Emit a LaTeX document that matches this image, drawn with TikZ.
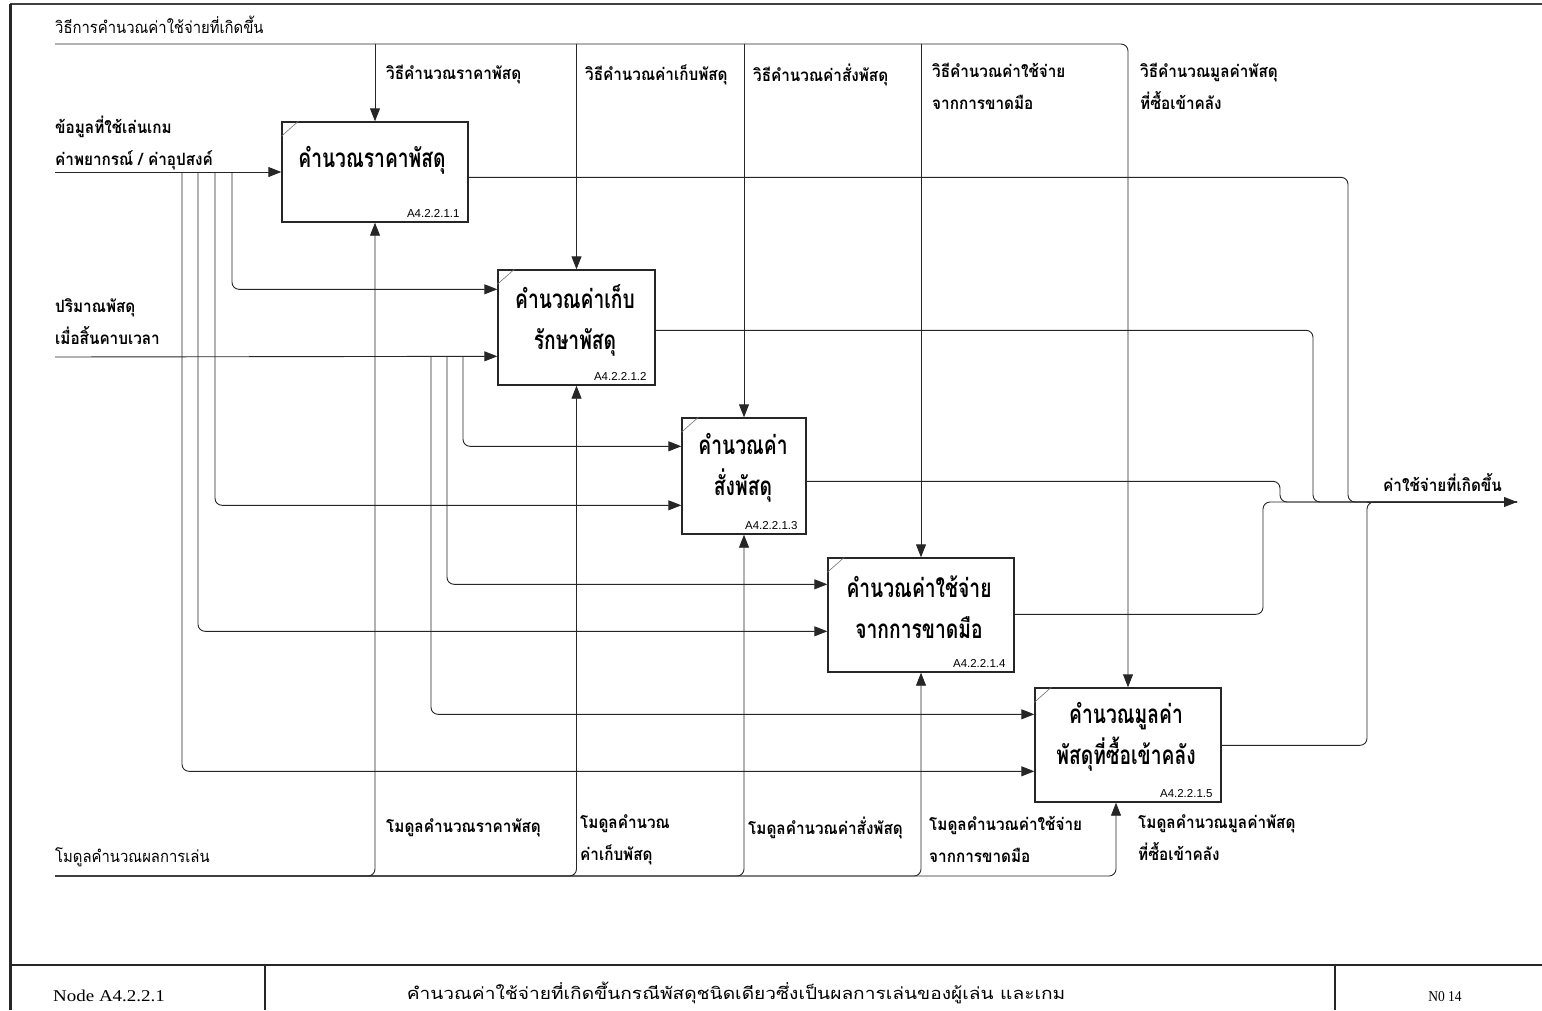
\documentclass[tikz,border=0pt]{standalone}
\usepackage{fontspec}
\setmainfont{Liberation Serif}
\newfontfamily\thai[Script=Thai, FakeStretch=0.9]{Loma}
\newfontfamily\thaititle[Script=Thai, FakeStretch=0.74]{Loma}
\newfontfamily\thaiwide[Script=Thai, FakeStretch=1.16]{Loma}
\newfontfamily\idfont{Liberation Sans}
\newfontfamily\sheetfont[FakeStretch=1.15]{Liberation Serif}
\newfontfamily\pagefont[FakeStretch=0.9]{Liberation Serif}
\usetikzlibrary{arrows.meta,calc}

\begin{document}
\begin{tikzpicture}[x=1pt,y=-1pt,
  ln/.style={line width=0.9pt, draw=black!85, rounded corners=7pt},
  arr/.style={ln, -{Triangle[length=13pt,width=10pt]}},
  actbox/.style={draw=black!85, line width=1.4pt, fill=white, inner sep=0pt},
  boxtitle/.style={font=\thaititle\bfseries\fontsize{26}{41}\selectfont, align=center, inner sep=0pt},
  lbl/.style={font=\thai\bfseries\fontsize{17}{32}\selectfont, align=left, inner sep=0pt, anchor=west},
  plainlbl/.style={lbl, font=\thai\fontsize{16.5}{32}\selectfont},
  boxid/.style={font=\idfont\fontsize{11.5}{12}\selectfont, inner sep=0pt, anchor=south east},
  cornermark/.style={line width=0.6pt, draw=black!55},
  frame/.style={line width=2pt, draw=black!85}
]
\useasboundingbox (0,0) rectangle (1542,1010);

% ---- sheet frame and title block ----
\draw[line width=1.5pt, draw=black!75] (10,4) -- (1542,4);
\draw[line width=3pt, draw=black!85] (10,4) -- (10,1010);
\draw[frame] (10,965) -- (1542,965);
\draw[frame] (265,965) -- (265,1010);
\draw[frame] (1335,965) -- (1335,1010);
\node[font=\sheetfont\fontsize{16.5}{19}\selectfont, anchor=west, inner sep=0pt] (nodeid) at (53,996) {Node A4.2.2.1};
\node[font=\thaiwide\fontsize{16.5}{19}\selectfont] (sheettitle) at (736,993) {คำนวณค่าใช้จ่ายที่เกิดขึ้นกรณีพัสดุชนิดเดียวซึ่งเป็นผลการเล่นของผู้เล่น และเกม};
\node[font=\pagefont\fontsize{15}{17}\selectfont] (pageno) at (1445,997) {N0 14};

% ---- activity boxes ----
\node[actbox, minimum width=186pt, minimum height=100pt] (b1) at (375,172) {};
\node[actbox, minimum width=157pt, minimum height=115pt] (b2) at (576.5,327.5) {};
\node[actbox, minimum width=124pt, minimum height=116pt] (b3) at (744,476) {};
\node[actbox, minimum width=186pt, minimum height=114pt] (b4) at (921,615) {};
\node[actbox, minimum width=186pt, minimum height=114pt] (b5) at (1128,745) {};

\foreach \b in {b1,b2,b3,b4,b5}
  \draw[cornermark] ($(\b.north west)+(0,15)$) -- ($(\b.north west)+(17,0)$);

\node[boxtitle] (t1) at (372,160) {คำนวณราคาพัสดุ};
\node[boxtitle] (t2) at (575,320) {คำนวณค่าเก็บ\\รักษาพัสดุ};
\node[boxtitle] (t3) at (743,468) {คำนวณค่า\\สั่งพัสดุ};
\node[boxtitle] (t4) at (919,607) {คำนวณค่าใช้จ่าย\\จากการขาดมือ};
\node[boxtitle] (t5) at (1126,737) {คำนวณมูลค่า\\พัสดุที่ซื้อเข้าคลัง};

\node[boxid] (id1) at ($(b1.south east)+(-9,-5)$) {A4.2.2.1.1};
\node[boxid] (id2) at ($(b2.south east)+(-9,-5)$) {A4.2.2.1.2};
\node[boxid] (id3) at ($(b3.south east)+(-9,-5)$) {A4.2.2.1.3};
\node[boxid] (id4) at ($(b4.south east)+(-9,-5)$) {A4.2.2.1.4};
\node[boxid] (id5) at ($(b5.south east)+(-9,-5)$) {A4.2.2.1.5};

% ---- controls ----
\coordinate (ctl) at (55,44);
\node[plainlbl] (ctllbl) at (55,25) {วิธีการคำนวณค่าใช้จ่ายที่เกิดขึ้น};
\draw[arr] (ctl) -| (b5.north);
\foreach \b in {b1,b2,b3,b4}
  \draw[arr] (\b.north |- ctl) -- (\b.north);
\node[lbl] (c1) at (386,75) {วิธีคำนวณราคาพัสดุ};
\node[lbl] (c2) at (585,75) {วิธีคำนวณค่าเก็บพัสดุ};
\node[lbl] (c3) at (753,75) {วิธีคำนวณค่าสั่งพัสดุ};
\node[lbl, anchor=north west] (c4) at (932,63) {วิธีคำนวณค่าใช้จ่าย\\จากการขาดมือ};
\node[lbl, anchor=north west] (c5) at (1140,63) {วิธีคำนวณมูลค่าพัสดุ\\ที่ซื้อเข้าคลัง};

% ---- inputs ----
\coordinate (in1) at (55,172);
\node[lbl, anchor=north west] (i1) at (55,116) {ข้อมูลที่ใช้เล่นเกม\\ค่าพยากรณ์ / ค่าอุปสงค์};
\draw[arr] (in1) -- (b1.west);
\coordinate (s1a) at (232,172);
\coordinate (s1b) at (215,172);
\coordinate (s1c) at (198,172);
\coordinate (s1d) at (182,172);
\draw[arr] (s1a) |- ($(b2.north west)+(0,20)$);
\draw[arr] (s1b) |- ($(b3.north west)+(0,88)$);
\draw[arr] (s1c) |- ($(b4.north west)+(0,74)$);
\draw[arr] (s1d) |- ($(b5.north west)+(0,84)$);

\coordinate (in2) at (55,357);
\node[lbl, anchor=north west] (i2) at (55,298) {ปริมาณพัสดุ\\เมื่อสิ้นคาบเวลา};
\draw[arr] (in2) -- ($(b2.north west)+(0,87)$);
\coordinate (s2a) at (463,357);
\coordinate (s2b) at (447,357);
\coordinate (s2c) at (431,357);
\draw[arr] (s2a) |- ($(b3.north west)+(0,29)$);
\draw[arr] (s2b) |- ($(b4.north west)+(0,27)$);
\draw[arr] (s2c) |- ($(b5.north west)+(0,27)$);

% ---- outputs ----
\coordinate (out) at (1517,502);
\coordinate (m1) at (1348,502);
\coordinate (m2) at (1313,502);
\coordinate (m3) at (1280,502);
\coordinate (m4) at (1263,502);
\coordinate (m5) at (1367,502);
\draw[ln] ($(b1.north east)+(0,56)$) -| (m1) -- (out);
\draw[ln] ($(b2.north east)+(0,61)$) -| (m2) -- (out);
\draw[ln] ($(b3.north east)+(0,64)$) -| (m3) -- (out);
\draw[ln] ($(b4.north east)+(0,57)$) -| (m4) -- (out);
\draw[ln] ($(b5.north east)+(0,58)$) -| (m5) -- (out);
\draw[arr, rounded corners=0pt] (m5) -- (out);
\node[lbl] (o1) at (1383,483) {ค่าใช้จ่ายที่เกิดขึ้น};

% ---- mechanisms ----
\coordinate (mec) at (55,876);
\node[plainlbl] (mlbl) at (55,857) {โมดูลคำนวณผลการเล่น};
\draw[arr] (mec) -| (b1.south);
\draw[arr] (mec) -| (b2.south);
\draw[arr] (mec) -| (b3.south);
\draw[arr] (mec) -| (b4.south);
\draw[arr] (mec) -| ($(b5.south)+(-12,0)$);
\node[lbl] (k1) at (386,828) {โมดูลคำนวณราคาพัสดุ};
\node[lbl, anchor=north west] (k2) at (580,814) {โมดูลคำนวณ\\ค่าเก็บพัสดุ};
\node[lbl] (k3) at (748,828) {โมดูลคำนวณค่าสั่งพัสดุ};
\node[lbl, anchor=north west] (k4) at (929,816) {โมดูลคำนวณค่าใช้จ่าย\\จากการขาดมือ};
\node[lbl, anchor=north west] (k5) at (1138,814) {โมดูลคำนวณมูลค่าพัสดุ\\ที่ซื้อเข้าคลัง};
\end{tikzpicture}
\end{document}
